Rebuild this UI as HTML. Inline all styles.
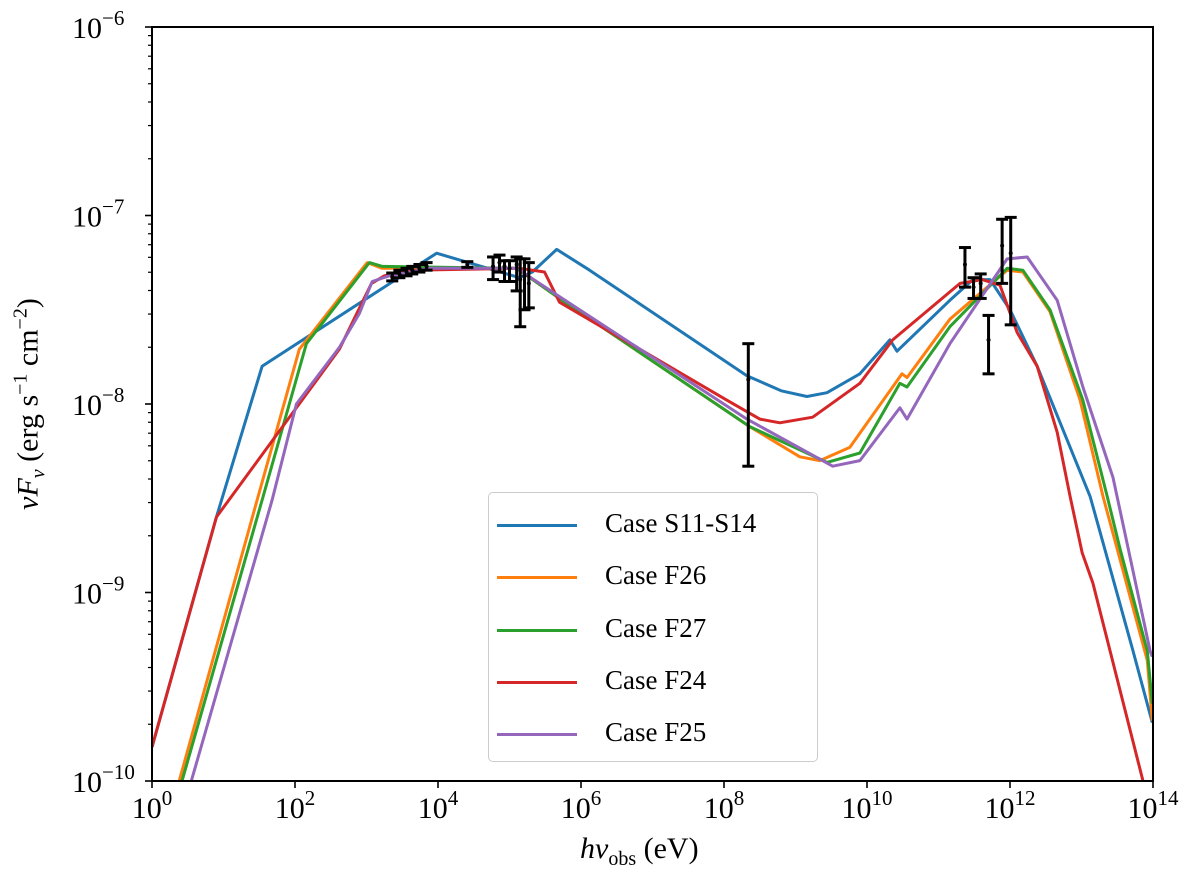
<!DOCTYPE html>
<html><head><meta charset="utf-8"><style>
html,body{margin:0;padding:0;background:#fff;}
svg{display:block;font-family:"Liberation Serif",serif;}
</style></head><body>
<svg id="chart" width="1200" height="881" viewBox="0 0 1200 881" xmlns="http://www.w3.org/2000/svg">
<g id="plot"></g>
</svg>
<script>
// data in log10 units
const xTicks = [0,2,4,6,8,10,12,14];
const yTicks = [-10,-9,-8,-7,-6];
const seriesNames = ["Case S11-S14","Case F26","Case F27","Case F24","Case F25"];
const seriesColors = ["#1f77b4","#ff7f0e","#2ca02c","#d62728","#9467bd"];
const blueX = [0,0.90,1.54,3.98,5.14,5.32,5.66,6.12,8.32,8.80,9.16,9.44,9.90,10.32,10.42,11.16,11.48,11.72,12.00,12.38,13.12,13.26,13.72,13.99];
const blueY = [-9.82,-8.60,-7.80,-7.20,-7.33,-7.30,-7.18,-7.29,-7.85,-7.93,-7.96,-7.94,-7.84,-7.66,-7.72,-7.45,-7.34,-7.34,-7.50,-7.80,-8.49,-8.68,-9.31,-9.69];
const orangeX = [0.38,1.47,2.06,3.01,3.22,5.10,5.70,8.36,9.06,9.34,9.76,10.49,10.56,11.16,11.96,12.18,12.56,12.98,13.30,13.92,13.99];
const orangeY = [-10.0,-8.51,-7.71,-7.25,-7.28,-7.28,-7.44,-8.12,-8.28,-8.30,-8.23,-7.84,-7.86,-7.55,-7.29,-7.30,-7.51,-7.98,-8.49,-9.36,-9.68];
const greenX = [0.42,1.54,2.16,3.04,3.22,5.10,5.70,8.36,9.44,9.90,10.46,10.56,11.16,11.96,12.18,12.56,13.02,13.36,13.54,13.92,13.99];
const greenY = [-10.0,-8.51,-7.68,-7.25,-7.27,-7.28,-7.44,-8.12,-8.31,-8.26,-7.89,-7.91,-7.59,-7.28,-7.29,-7.50,-7.98,-8.49,-8.77,-9.31,-9.59];
const redX = [0,0.90,2.02,2.62,3.07,3.25,3.60,5.14,5.49,5.70,8.04,8.50,8.78,9.24,9.90,10.36,11.30,11.61,11.86,12.10,12.38,12.66,12.84,13.01,13.16,13.86];
const redY = [-9.82,-8.60,-8.02,-7.71,-7.36,-7.32,-7.29,-7.28,-7.30,-7.46,-7.98,-8.08,-8.10,-8.07,-7.89,-7.66,-7.36,-7.34,-7.37,-7.62,-7.80,-8.15,-8.49,-8.79,-8.95,-10.0];
const purpleX = [0.55,1.68,2.02,2.62,2.90,3.08,3.32,3.88,5.10,5.70,8.32,9.52,9.90,10.46,10.56,11.16,11.96,12.24,12.66,13.02,13.30,13.44,13.96,13.99];
const purpleY = [-10.0,-8.51,-8.00,-7.70,-7.52,-7.35,-7.32,-7.28,-7.28,-7.43,-8.08,-8.33,-8.30,-8.02,-8.08,-7.68,-7.23,-7.22,-7.45,-7.91,-8.23,-8.39,-9.31,-9.34];
const obsX = [3.36,3.46,3.56,3.64,3.74,3.84,4.41,4.77,4.86,4.93,5.00,5.10,5.15,5.21,5.27,8.34,11.37,11.49,11.59,11.70,11.89,12.01];
const obsY = [-7.326,-7.31,-7.30,-7.29,-7.28,-7.27,-7.26,-7.27,-7.25,-7.27,-7.28,-7.26,-7.34,-7.32,-7.36,-7.87,-7.26,-7.38,-7.36,-7.66,-7.16,-7.20];
const obsLo = [-7.347,-7.33,-7.32,-7.31,-7.30,-7.29,-7.275,-7.34,-7.30,-7.35,-7.35,-7.40,-7.59,-7.50,-7.49,-8.33,-7.38,-7.44,-7.44,-7.84,-7.36,-7.58];
const obsHi = [-7.305,-7.29,-7.28,-7.27,-7.26,-7.25,-7.245,-7.22,-7.21,-7.24,-7.24,-7.22,-7.23,-7.23,-7.25,-7.68,-7.17,-7.33,-7.31,-7.53,-7.02,-7.01];

const L=152,R=1153,T=27,B=781;
const sx = v => L + (v-0)/(14-0)*(R-L);
const sy = v => B - (v-(-10))/4*(B-T);
const NS="http://www.w3.org/2000/svg";
const g=document.getElementById('plot');
function mk(tag,attrs,parent){const e=document.createElementNS(NS,tag);for(const k in attrs)e.setAttribute(k,attrs[k]);(parent||g).appendChild(e);return e;}

const defs=mk('defs',{});
const cp=mk('clipPath',{id:'clip'},defs);
mk('rect',{x:L,y:T,width:R-L,height:B-T},cp);

const cg=mk('g',{'clip-path':'url(#clip)'});
const allX=[blueX,orangeX,greenX,redX,purpleX];
const allY=[blueY,orangeY,greenY,redY,purpleY];
const keys=['case-s11-s14','case-f26','case-f27','case-f24','case-f25'];
[0,1,2,3,4].forEach(i=>{
  const d=allX[i].map((x,j)=>(j?'L':'M')+sx(x).toFixed(1)+','+sy(allY[i][j]).toFixed(1)).join('');
  const p=mk('path',{d:d,fill:'none',stroke:seriesColors[i],'stroke-width':3,'stroke-linejoin':'round'},cg);
  
  
});
obsX.forEach((x,i)=>{
  const eg=mk('g',{stroke:'#000','stroke-width':3},cg);
  
  
  const X=sx(x),y1=sy(obsLo[i]),y2=sy(obsHi[i]);
  mk('line',{x1:X,x2:X,y1:y1,y2:y2},eg);
  mk('line',{x1:X-6,x2:X+6,y1:y1,y2:y1},eg);
  mk('line',{x1:X-6,x2:X+6,y1:y2,y2:y2},eg);
  mk('circle',{cx:X,cy:sy(obsY[i]),r:2,fill:'#000',stroke:'none'},eg);
});

const fr=mk('rect',{x:L,y:T,width:R-L,height:B-T,fill:'none',stroke:'#000','stroke-width':2});



xTicks.forEach(v=>{
  const X=sx(v);
  mk('line',{x1:X,x2:X,y1:B,y2:B+7,stroke:'#000','stroke-width':1.6});
  const t=mk('text',{x:X,y:B+37,'font-size':30,'text-anchor':'middle'});
  
  
  t.textContent='10';
  const s=mk('tspan',{dy:-13,'font-size':21},t);
  s.textContent=String(v);
});
yTicks.forEach(v=>{
  const Y=sy(v);
  mk('line',{x1:L-7,x2:L,y1:Y,y2:Y,stroke:'#000','stroke-width':1.6});
  const t=mk('text',{x:72,y:Y+11,'font-size':30});
  
  
  t.textContent='10';
  const s=mk('tspan',{dy:-13,'font-size':21},t);
  s.textContent='\u2212'+String(-v);
  if(v<-6){for(let m=2;m<10;m++){const yy=sy(v+Math.log10(m));mk('line',{x1:L-4,x2:L,y1:yy,y2:yy,stroke:'#000','stroke-width':1.2});}}
});
</script>
<div style="position:absolute;left:580px;top:832px;font:italic 30px 'Liberation Serif',serif;">hν<sub style="font-style:normal;font-size:20px">obs</sub> <span style="font-style:normal">(eV)</span></div>
<div style="position:absolute;left:30px;top:404px;transform:translate(-50%,-50%) rotate(-90deg);white-space:nowrap;font:30px 'Liberation Serif',serif;"><i>νF<sub style="font-size:20px">ν</sub></i> (erg s<sup style="font-size:20px">−1</sup> cm<sup style="font-size:20px">−2</sup>)</div>
<div style="position:absolute;left:488px;top:492px;width:328px;height:268px;border:1.5px solid #ccc;border-radius:5px;background:rgba(255,255,255,0.85);font:27px 'Liberation Serif',serif;">
<div style="position:absolute;left:8px;top:15px;"><span style="display:inline-block;width:80px;height:3px;background:#1f77b4;vertical-align:middle"></span><span style="margin-left:28px">Case S11-S14</span></div>
<div style="position:absolute;left:8px;top:67px;"><span style="display:inline-block;width:80px;height:3px;background:#ff7f0e;vertical-align:middle"></span><span style="margin-left:28px">Case F26</span></div>
<div style="position:absolute;left:8px;top:120px;"><span style="display:inline-block;width:80px;height:3px;background:#2ca02c;vertical-align:middle"></span><span style="margin-left:28px">Case F27</span></div>
<div style="position:absolute;left:8px;top:172px;"><span style="display:inline-block;width:80px;height:3px;background:#d62728;vertical-align:middle"></span><span style="margin-left:28px">Case F24</span></div>
<div style="position:absolute;left:8px;top:224px;"><span style="display:inline-block;width:80px;height:3px;background:#9467bd;vertical-align:middle"></span><span style="margin-left:28px">Case F25</span></div>
</div>
</body></html>
